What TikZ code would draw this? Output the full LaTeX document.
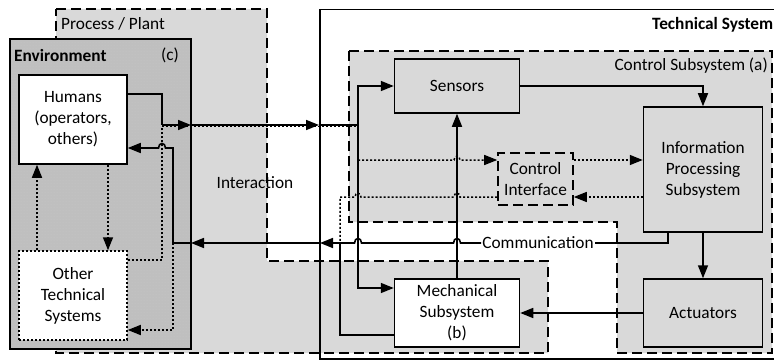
\documentclass[tikz,border=0pt]{standalone}
\usepackage{fontspec}
\setmainfont{Carlito}
\usetikzlibrary{arrows.meta,patterns}

\definecolor{plantgray}{HTML}{D9D9D9}
\definecolor{envgray}{HTML}{BFBFBF}
\definecolor{envdot}{HTML}{CACACA}

\tikzset{
  box/.style={draw, line width=1.5pt, align=center, inner sep=0pt},
  conn/.style={line width=1.6pt},
  dotline/.style={line width=1.5pt, dash pattern=on 2pt off 2pt},
  dashframe/.style={draw, line width=1.9pt, dash pattern=on 10pt off 5pt},
  arr/.style={-{Triangle[length=13pt,width=10pt]}},
}

\begin{document}
\begin{tikzpicture}[x=1pt, y=-1pt, font=\fontsize{17.3}{21}\selectfont]
\useasboundingbox (0,0) rectangle (774,361);

% process / plant region
\path[dashframe, fill=plantgray]
  (56,9) -- (267,9) -- (267,261) -- (548,261) -- (548,353) -- (56,353) -- cycle;

% technical system frame
\node[draw, line width=1.5pt, anchor=north west, minimum width=480pt,
      minimum height=349pt, inner sep=0pt] (tech) at (319,9) {};

% control subsystem region
\path[dashframe, fill=plantgray]
  (349,51) -- (772,51) -- (772,353) -- (617,353) -- (617,222) -- (349,222) -- cycle;

% environment
\node[draw, line width=1.5pt, minimum width=181pt, minimum height=310pt,
      inner sep=0pt, preaction={fill=envgray}, pattern=dots, pattern color=envdot]
      (env) at (100.5,194) {};

% labels of the regions
\node[anchor=west, inner sep=0pt] (plantlbl) at (61,24) {Process / Plant};
\node[anchor=west, inner sep=0pt, font=\fontsize{17.3}{21}\selectfont\bfseries]
      (envlbl) at (14,55) {Environment};
\node[inner sep=0pt] (envc) at (170,55) {(c)};
\node[inner sep=0pt] (interlbl) at (255,183) {Interaction};
\node[anchor=east, inner sep=0pt] (ctrllbl) at (768,66) {Control Subsystem (a)};
\node[anchor=west, inner sep=0pt, font=\fontsize{17.3}{21}\selectfont\bfseries]
      (techlbl) at (652,25) {Technical System};

% blocks
\node[box, fill=white, minimum width=108pt, minimum height=89pt]
      (hum) at (73,119.5) {\raisebox{-3pt}{\begin{tabular}{@{}c@{}}Humans\\(operators,\\others)\end{tabular}}};
\node[box, fill=white, dash pattern=on 2pt off 2pt, minimum width=108pt, minimum height=89pt]
      (oth) at (73,295.5) {Other\\Technical\\Systems};
\node[box, fill=plantgray, minimum width=125pt, minimum height=54pt]
      (sen) at (457,86) {Sensors};
\node[box, fill=plantgray, minimum width=119pt, minimum height=125pt]
      (ipr) at (703,169.5) {Information\\Processing\\Subsystem};
\node[box, fill=plantgray, minimum width=119pt, minimum height=68pt]
      (act) at (703,313) {Actuators};
\node[box, fill=white, minimum width=125pt, minimum height=68pt]
      (mec) at (457,313) {Mechanical\\Subsystem\\(b)};
\node[box, fill=plantgray, line width=1.6pt, dash pattern=on 10pt off 5pt,
      minimum width=75pt, minimum height=52pt]
      (ci) at (535.5,179) {Control\\Interface};

% signal flow inside the technical system
\draw[conn, arr] (sen.east) -| (ipr.north);
\draw[conn, arr] (ipr.south) -- (act.north);
\draw[conn, arr] (act.west) -- (mec.east);
\draw[conn, arr] (mec.north) -- (sen.south);

% helper coordinates for the routed connectors
\coordinate (iA) at (162,94);
\coordinate (iB) at (162,125);
\coordinate (iC) at (191,125);
\coordinate (iD) at (319,125);
\coordinate (iE) at (358,125);
\coordinate (iM) at (358,288);
\coordinate (oA) at (162,260);
\coordinate (dA) at (358,160);
\coordinate (dB) at (340,197);
\coordinate (cA) at (668,243);
\coordinate (cB) at (320,243);
\coordinate (cC) at (191,243);
\coordinate (cD) at (173,243);
\coordinate (cE) at (173,148);
\coordinate (cF) at (173,330);
\coordinate (mB) at (340,335);
\coordinate (mC) at (340,243);
\coordinate (vR) at (108,200);
\coordinate (vL) at (37,200);

% dotted paths (drawn below the solid ones)
\draw[dotline] (oth.east |- oA) -- (oA) -- (162,126.5) -- (358,126.5) -- (dA);
\draw[dotline, arr] (dA) -- (454,160) .. controls (454,155) and (460,155) .. (460,160)
  -- (ci.west |- dA);
\draw[dotline, arr] (ci.east |- dA) -- (ipr.west |- dA);
\draw[dotline, arr] (ipr.west |- dB) -- (ci.east |- dB);
\draw[dotline] (ci.west |- dB) -- (460,197) .. controls (460,192) and (454,192) .. (454,197)
  -- (361,197) .. controls (361,192) and (355,192) .. (355,197) -- (dB) -- (mC);
\draw[dotline, arr] (hum.south -| vR) -- (oth.north -| vR);
\draw[dotline, arr] (oth.north -| vL) -- (hum.south -| vL);
\draw[dotline, arr] (cD) -- (cF) -- (oth.east |- cF);

% interaction from humans towards the technical system
\draw[conn] (hum.east |- iA) -- (iA) -- (iB);
\draw[conn, arr] (iB) -- (iC);
\draw[conn, arr] (iC) -- (iD);
\draw[conn] (iD) -- (iE);
\draw[conn, arr] (iE) |- (sen.west);
\draw[conn, arr] (iE) -- (iM) -- (mec.west |- iM);

% communication back to the environment
\node[fill=white, inner sep=1pt] (comm) at (538,243) {Communication};
\draw[conn] (ipr.south -| cA) -- (cA) -- (comm.east);
\draw[conn, arr] (comm.west) -- (460.5,243) .. controls (460.5,237) and (453.5,237) .. (453.5,243)
  -- (361.5,243) .. controls (361.5,237) and (354.5,237) .. (354.5,243) -- (cB);
\draw[conn, arr] (cB) -- (cC);
\draw[conn, arr] (cC) -- (cD) -- (cE) -- (165.5,148) .. controls (165.5,142) and (158.5,142) .. (158.5,148)
  -- (hum.east |- cE);
\draw[conn] (mec.west |- mB) -- (mB) -- (mC);
\end{tikzpicture}
\end{document}
